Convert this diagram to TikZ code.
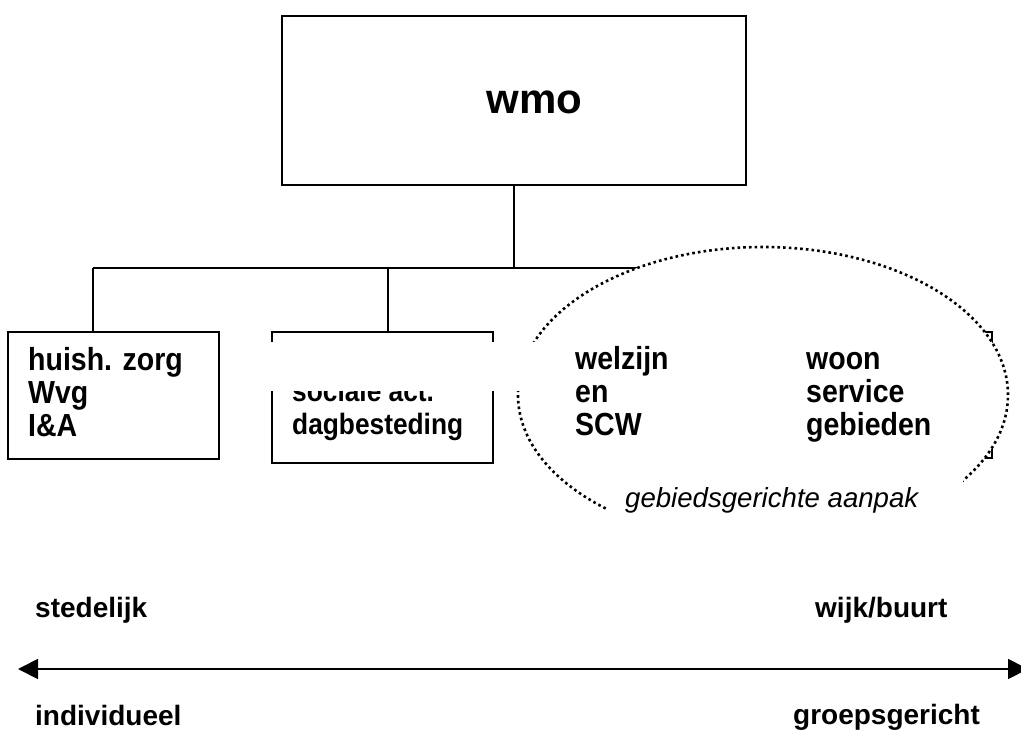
\documentclass[tikz,border=0pt]{standalone}
\usepackage{fontspec}
\setmainfont{Liberation Sans}
\usetikzlibrary{arrows.meta,shapes.geometric}
\begin{document}
\begin{tikzpicture}[x=1pt,y=-1pt,
  boxline/.style={draw=black,line width=1.8pt},
  conn/.style={draw=black,line width=1.6pt},
  lbl/.style={inner sep=0pt,anchor=base west,align=left,font=\bfseries\fontsize{28}{32.5}\selectfont},
  boxtxt/.style={inner sep=0pt,anchor=base west,align=left,yscale=1.12,font=\bfseries\fontsize{28.5}{29.4}\selectfont},
  dotring/.style={draw=black,line width=2.6pt,dash pattern=on 2.6pt off 3.1pt,fill=white}]
\useasboundingbox (0,0) rectangle (1021,731);
% top box
\node[boxline,minimum width=464pt,minimum height=169pt,inner sep=0pt] (wmo) at (514,100.5) {};
\node[inner sep=0pt,anchor=base,font=\bfseries\fontsize{42}{48}\selectfont] (wmotxt) at (534.5,113) {wmo};
% bus
\coordinate (top) at (514,268);
\coordinate (j1) at (93,268);
\coordinate (j2) at (388,268);
\coordinate (j3) at (776,268);
\draw[conn] (wmo.south) -- (top);
\draw[conn] (j1) -- (j3);
% boxes
\node[boxline,minimum width=211pt,minimum height=127pt,inner sep=0pt] (b1) at (113.5,395.5) {};
\node[boxline,minimum width=221pt,minimum height=131pt,inner sep=0pt] (b2) at (382.5,397.5) {};
\node[boxline,minimum width=432pt,minimum height=126pt,inner sep=0pt] (b3) at (776,395) {};
\draw[conn] (j1) -- (j1 |- b1.north);
\draw[conn] (j2) -- (j2 |- b2.north);
\draw[conn] (j3) -- (j3 |- b3.north);
\node[boxtxt] (t1) at (28,436) {huish. zorg\\Wvg\\I\&A};
\node[boxtxt,font=\bfseries\fontsize{26.3}{28.6}\selectfont] (t2) at (292,434) {sociale act.\\dagbesteding};
% ellipse
\node[dotring,ellipse,minimum width=490pt,minimum height=296pt,inner sep=0pt] (ring) at (763,395) {};
% white band over box 2 and ring edge
\fill[white] (265,342) rectangle (545,391);
\node[boxtxt] (t3) at (575,435) {welzijn\\en\\SCW};
\node[boxtxt] (t4) at (806,435) {woon\\service\\gebieden};
\fill[white] (607,465) rectangle (963,560);
\node[inner sep=0pt,anchor=base west,font=\itshape\fontsize{27.6}{32}\selectfont] (area) at (625,507) {gebiedsgerichte aanpak};
% axis
\coordinate (L) at (18,669);
\coordinate (R) at (1028,669);
\draw[line width=1.8pt,{Triangle[length=20pt,width=20pt]}-{Triangle[length=20pt,width=20pt]}] (L) -- (R);
\node[lbl] (s) at (35,617) {stedelijk};
\node[lbl] (w) at (815,617) {wijk/buurt};
\node[lbl] (i) at (35,725) {individueel};
\node[lbl] (g) at (793,724) {groepsgericht};
\end{tikzpicture}
\end{document}
